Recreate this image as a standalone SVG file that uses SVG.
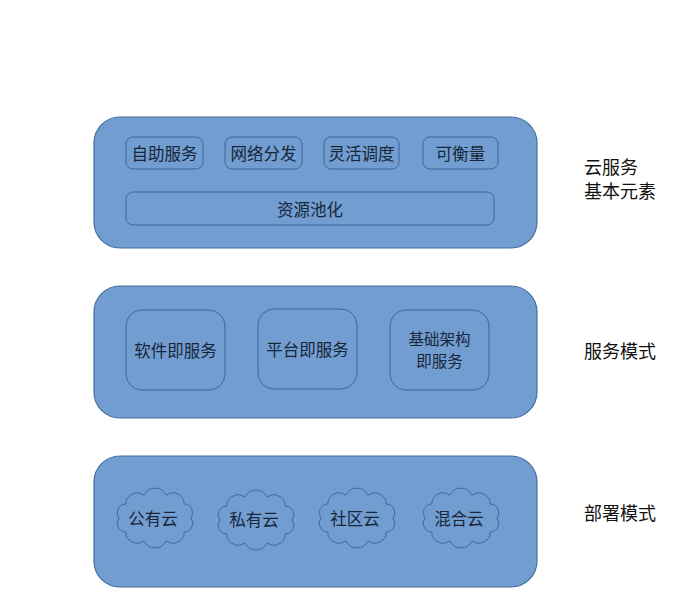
<svg xmlns="http://www.w3.org/2000/svg" xmlns:xlink="http://www.w3.org/1999/xlink" width="700" height="616" viewBox="0 0 700 616">
<style>
.panel{fill:#729dd0;stroke:#41709f;stroke-width:1.2}
.box{fill:#729dd0;stroke:#3b66a0;stroke-width:1}
.cloud{fill:#729dd0;stroke:#3b66a0;stroke-width:0.9}
.t{font-family:"Noto Sans CJK SC","Noto Sans",sans-serif;font-size:16.5px;fill:#18263a;text-anchor:middle;dominant-baseline:central}
.t2{font-family:"Noto Sans CJK SC","Noto Sans",sans-serif;font-size:15.5px;fill:#18263a;text-anchor:middle;dominant-baseline:central}
.lab{font-family:"Noto Sans CJK SC","Noto Sans",sans-serif;font-size:18px;fill:#111111;dominant-baseline:central}
</style>
<defs>
<path id="cloudShape" d="M34,0 A8.5,8.5 0 0 1 27.5,13.5 A10.5,10.5 0 0 1 10.5,21.9 A11.5,11.5 0 0 1 -10.5,21.9 A10.5,10.5 0 0 1 -27.5,13.5 A8.5,8.5 0 0 1 -34,0 A8.5,8.5 0 0 1 -27.5,-13.5 A10.5,10.5 0 0 1 -10.5,-21.9 A11.5,11.5 0 0 1 10.5,-21.9 A10.5,10.5 0 0 1 27.5,-13.5 A8.5,8.5 0 0 1 34,0 Z"/>
</defs>
<rect width="700" height="616" fill="#ffffff"/>

<g id="layer-elements">
<rect class="panel" x="94" y="117" width="443" height="131" rx="26"/>
<g id="n-zizhu"><rect class="box" x="126" y="137" width="77" height="32" rx="7"/><text class="t" x="164.5" y="153">自助服务</text></g>
<g id="n-wangluo"><rect class="box" x="225" y="137" width="77" height="32" rx="7"/><text class="t" x="263.5" y="153">网络分发</text></g>
<g id="n-linghuo"><rect class="box" x="324" y="137" width="75" height="32" rx="7"/><text class="t" x="361.5" y="153">灵活调度</text></g>
<g id="n-kehengliang"><rect class="box" x="423" y="137" width="75" height="32" rx="7"/><text class="t" x="460.5" y="153">可衡量</text></g>
<g id="n-ziyuan"><rect class="box" x="126" y="192" width="368" height="33" rx="7"/><text class="t" x="310" y="208.5">资源池化</text></g>
</g>

<g id="layer-service">
<rect class="panel" x="94" y="286" width="443" height="132" rx="26"/>
<g id="n-saas"><rect class="box" x="126" y="310" width="99" height="80" rx="16"/><text class="t" x="175.5" y="350">软件即服务</text></g>
<g id="n-paas"><rect class="box" x="258" y="309" width="99" height="80" rx="16"/><text class="t" x="307.5" y="349">平台即服务</text></g>
<g id="n-iaas"><rect class="box" x="390" y="310" width="99" height="80" rx="16"/><text class="t2"><tspan x="439.5" y="338">基础架构</tspan><tspan x="439.5" y="360">即服务</tspan></text></g>
</g>

<g id="layer-deploy">
<rect class="panel" x="94" y="456" width="443" height="131" rx="26"/>
<g id="n-public"><use href="#cloudShape" class="cloud" transform="translate(155,518) scale(1.06,1.04)"/><text class="t" x="153" y="518">公有云</text></g>
<g id="n-private"><use href="#cloudShape" class="cloud" transform="translate(256,520) scale(1.06,1.04)"/><text class="t" x="254" y="519">私有云</text></g>
<g id="n-community"><use href="#cloudShape" class="cloud" transform="translate(357,518) scale(1.06,1.04)"/><text class="t" x="355" y="518">社区云</text></g>
<g id="n-hybrid"><use href="#cloudShape" class="cloud" transform="translate(461,518) scale(1.06,1.04)"/><text class="t" x="459" y="518">混合云</text></g>
</g>

<g id="labels">
<text class="lab"><tspan x="584" y="166">云服务</tspan><tspan x="584" y="190">基本元素</tspan></text>
<text class="lab" x="584" y="350">服务模式</text>
<text class="lab" x="584" y="512">部署模式</text>
</g>

<g id="connectors"></g>
</svg>
